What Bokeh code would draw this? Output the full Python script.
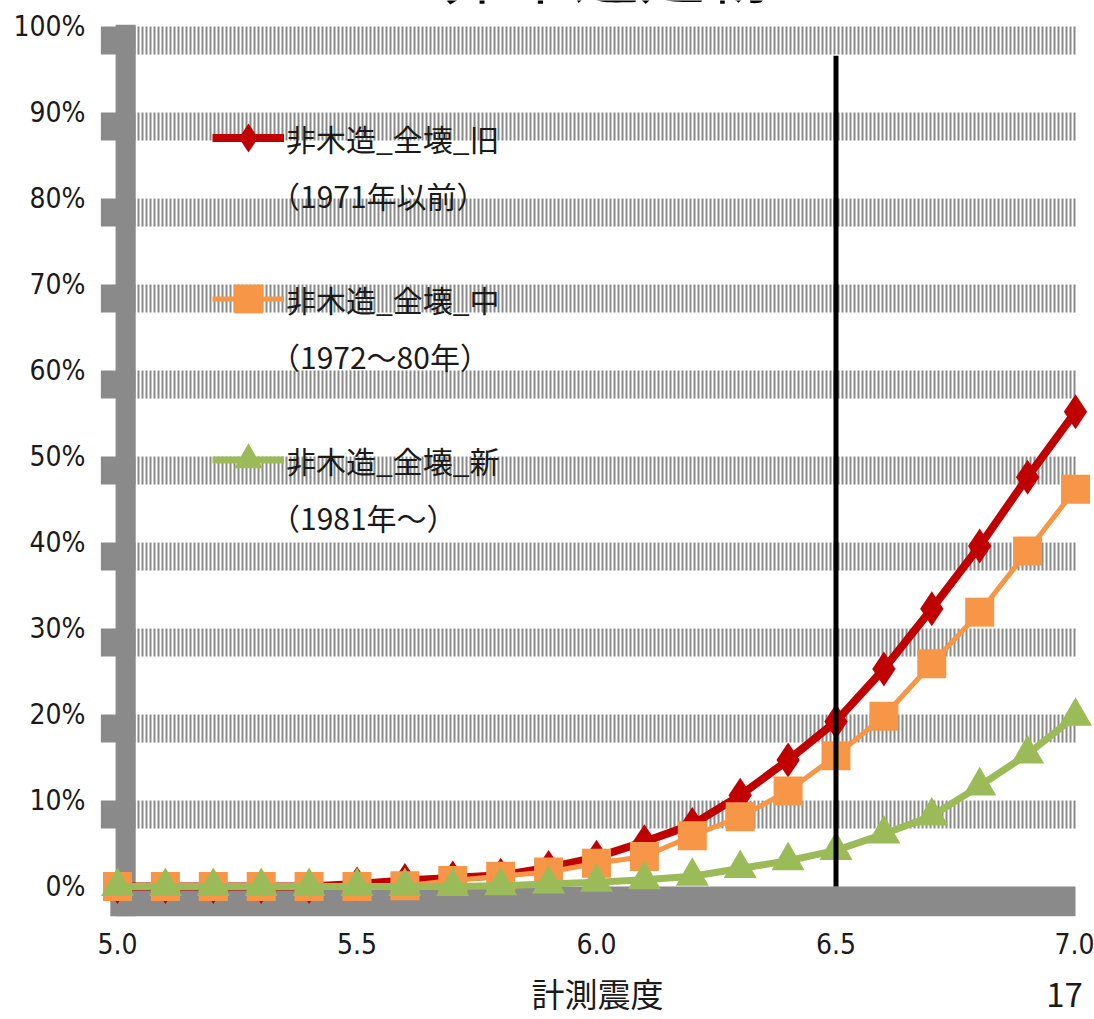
from bokeh.plotting import figure
from bokeh.models import (Range1d, FixedTicker, PrintfTickFormatter, NumeralTickFormatter,
                          Legend, LegendItem, Label, LinearAxis)
from bokeh.core.properties import value
from bokeh.embed import file_html
from bokeh.resources import INLINE

# ---------------- data ----------------
INTENSITY = [5.0, 5.1, 5.2, 5.3, 5.4, 5.5, 5.6, 5.7, 5.8, 5.9, 6.0,
             6.1, 6.2, 6.3, 6.4, 6.5, 6.6, 6.7, 6.8, 6.9, 7.0]
OLD = [0.0, 0.0, 0.0, 0.0, 0.0, 0.3, 0.7, 1.0, 1.3, 2.2, 3.4,
       5.2, 7.2, 10.6, 14.7, 19.2, 25.3, 32.3, 39.6, 47.6, 55.2]
MID = [0.0, 0.0, 0.0, 0.0, 0.0, 0.0, 0.1, 0.7, 1.2, 1.7, 2.7,
       3.5, 5.9, 8.1, 11.1, 15.2, 19.8, 25.9, 31.9, 39.0, 46.2]
NEW = [0.0, 0.0, 0.0, 0.0, 0.0, 0.0, 0.0, 0.0, 0.1, 0.3, 0.5,
       0.8, 1.2, 2.1, 3.0, 4.2, 6.1, 8.2, 11.7, 15.4, 19.8]
SERIES_NAMES = ["非木造_全壊_旧", "非木造_全壊_中", "非木造_全壊_新"]
SERIES_PERIODS = ["（1971年以前）", "（1972～80年）", "（1981年～）"]
X_TICKS = [5.0, 5.5, 6.0, 6.5, 7.0]
Y_TICKS = [0, 10, 20, 30, 40, 50, 60, 70, 80, 90, 100]
THRESHOLD = 6.5
THRESHOLD_TOP = 96.6
TITLE = "＜非木造建物＞"
X_LABEL = "計測震度"
PAGE_NO = "17"

# ---------------- styles / layout ----------------
RED, ORANGE, GREEN, GRAY = "#C00000", "#F79646", "#9BBB59", "#8a8a8a"
X_MIN, X_MAX = INTENSITY[0], INTENSITY[-1]
BAND = 3.25  # thickness of the striped grid bands, in % units
CJK = "Noto Sans CJK JP"
NARROW = "DejaVu Sans Condensed, Liberation Sans, sans-serif"
W, H = 1094, 1019
LEFT, RIGHT, BOTTOM = 100, 2, 100
FRAME_W = W - LEFT - RIGHT
LABEL_POS = 497      # pixel offset (from frame left) of the axis title
PAGE_POS = 964       # pixel offset (from frame left) of the page number

p = figure(width=W, height=H,
           x_range=Range1d(4.9645, 7.0355), y_range=Range1d(-3.6, 103.02),
           output_backend="svg", toolbar_location=None,
           min_border_left=LEFT, min_border_right=RIGHT,
           min_border_top=0, min_border_bottom=BOTTOM)
p.outline_line_color = None
p.grid.visible = False
p.background_fill_color = "white"

# striped grid bands (below each tick value)
grid_vals = [v for v in Y_TICKS if v > 0]
p.segment(x0=[X_MIN] * len(grid_vals), x1=[X_MAX] * len(grid_vals),
          y0=[v - BAND / 2 for v in grid_vals], y1=[v - BAND / 2 for v in grid_vals],
          line_color=GRAY, line_width=28, line_dash="2 2", line_cap="butt")
# small solid stubs left of the axis bar
p.quad(left=[X_MIN - 0.035] * len(grid_vals), right=[X_MIN] * len(grid_vals),
       top=grid_vals, bottom=[v - BAND for v in grid_vals],
       fill_color=GRAY, line_color=None)
# thick y axis bar
p.quad(left=[X_MIN - 0.004], right=[X_MIN + 0.038], top=[Y_TICKS[-1] + 0.2],
       bottom=[-BAND - 0.2], fill_color=GRAY, line_color=None)
# thick x axis bar
p.quad(left=[X_MIN - 0.015], right=[X_MAX], top=[0], bottom=[-BAND - 0.2],
       fill_color=GRAY, line_color=None)

# series
r1 = p.line(INTENSITY, OLD, line_color=RED, line_width=8, line_join="round")
m1 = p.scatter(INTENSITY, OLD, marker="diamond", size=35, fill_color=RED, line_color=None)
r2 = p.line(INTENSITY, MID, line_color=ORANGE, line_width=5, line_join="round")
m2 = p.scatter(INTENSITY, MID, marker="square", size=29, fill_color=ORANGE, line_color=None)
r3 = p.line(INTENSITY, NEW, line_color=GREEN, line_width=7, line_join="round")
m3 = p.scatter(INTENSITY, NEW, marker="triangle", size=33, fill_color=GREEN, line_color=None)

# threshold line
p.segment(x0=[THRESHOLD], x1=[THRESHOLD], y0=[0], y1=[THRESHOLD_TOP],
          line_color="black", line_width=5)

# legend: names with keys, and a second legend for the period lines
legend_style = dict(orientation="vertical", glyph_width=72, glyph_height=85,
                    label_height=85, spacing=76, padding=0, margin=0, label_standoff=2,
                    background_fill_alpha=0, border_line_alpha=0,
                    label_text_font=CJK, label_text_font_size="30px",
                    label_text_color="#1a1a1a")
name_items = [LegendItem(label=value(n), renderers=rs)
              for n, rs in zip(SERIES_NAMES, [[r1, m1], [r2, m2], [r3, m3]])]
period_items = [LegendItem(label=value(t), renderers=[]) for t in SERIES_PERIODS]
p.add_layout(Legend(items=name_items, location=(112, 415), **legend_style))
p.add_layout(Legend(items=period_items, location=(96, 358), **legend_style))

# axes
p.xaxis.ticker = FixedTicker(ticks=X_TICKS)
p.xaxis.formatter = NumeralTickFormatter(format="0.0")
p.yaxis.ticker = FixedTicker(ticks=Y_TICKS)
p.yaxis.formatter = PrintfTickFormatter(format="%d%%")
for ax in (p.xaxis[0], p.yaxis[0]):
    ax.axis_line_color = None
    ax.major_tick_line_color = None
    ax.minor_tick_line_color = None
    ax.major_label_text_font = NARROW
    ax.major_label_text_font_size = "28px"
    ax.major_label_text_color = "#1a1a1a"
p.xaxis.major_label_standoff = 9
p.yaxis.major_label_standoff = 9

# second row below the axis: axis title and slide page number
p.extra_x_ranges = {"page": Range1d(0, FRAME_W)}
bottom_row = LinearAxis(x_range_name="page", ticker=FixedTicker(ticks=[LABEL_POS, PAGE_POS]),
                        major_label_overrides={LABEL_POS: X_LABEL, PAGE_POS: PAGE_NO},
                        axis_line_color=None, major_tick_line_color=None,
                        minor_tick_line_color=None, major_label_standoff=6,
                        major_label_text_font=CJK, major_label_text_font_size="33px",
                        major_label_text_color="#1a1a1a")
p.add_layout(bottom_row, "below")

# cut-off slide title
p.add_layout(Label(x=506, y=949, x_units="screen", y_units="screen", text=TITLE,
                   text_font=CJK, text_font_size="66px", text_align="center",
                   text_baseline="alphabetic", text_color="black"))

open("out.html", "w").write(file_html(p, INLINE))
